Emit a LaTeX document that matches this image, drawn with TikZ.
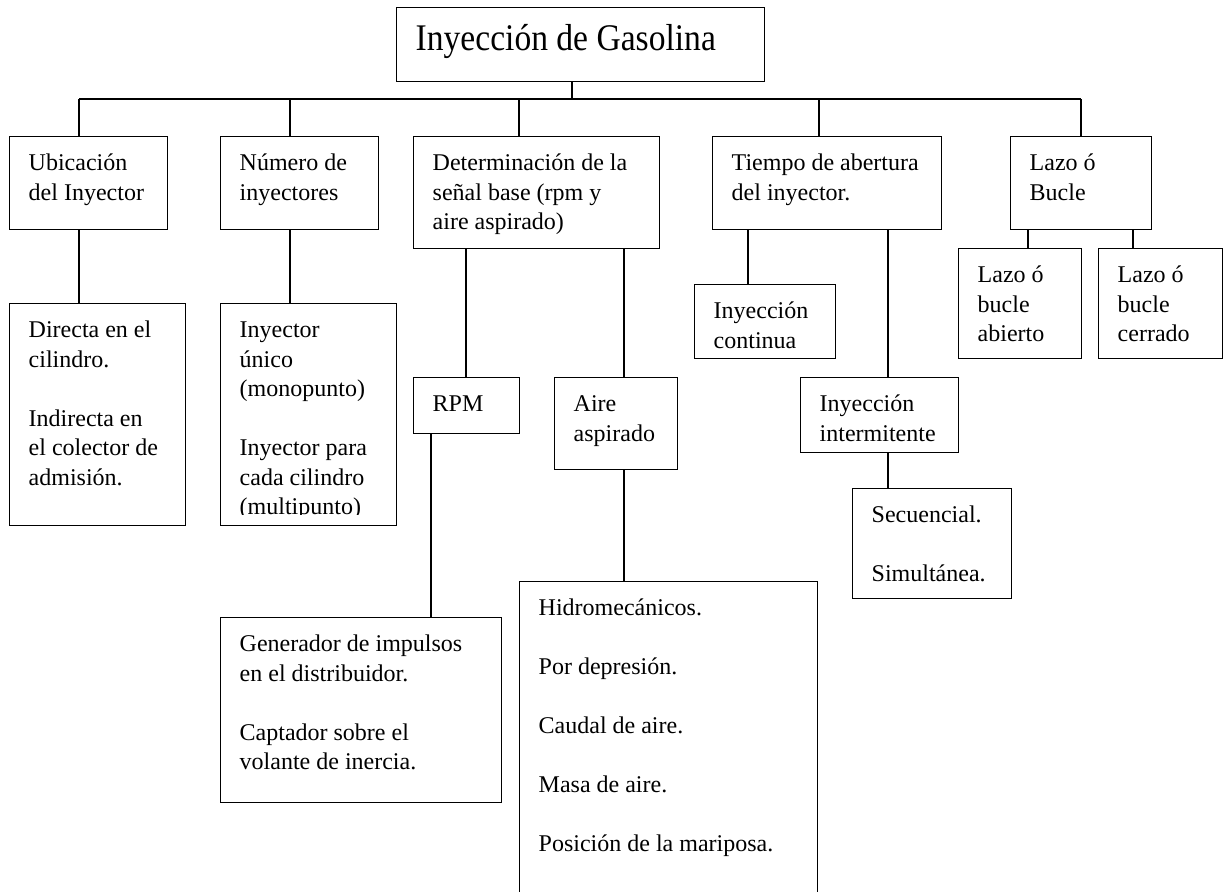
\documentclass[tikz,border=0pt]{standalone}
\usepackage{fontspec}
\setmainfont{Liberation Serif}
\newfontfamily\titfont[FakeStretch=0.893]{Liberation Serif}
\newlength{\upx}
\setlength{\upx}{0.5pt}
% texto arriba a la izquierda dentro de una caja de ancho x alto fijos
\newcommand{\cj}[4][34]{\parbox[c][#3\upx][t]{#2\upx}{\raggedright\leftskip=19\upx\rule{0pt}{#1\upx}#4}}
\begin{document}
\begin{tikzpicture}[x=0.5pt,y=-0.5pt,
  every node/.style={font=\fontsize{12pt}{14.75pt}\selectfont},
  caja/.style={draw,line width=0.7pt,anchor=north west,inner sep=0pt},
  linea/.style={line width=0.7pt}]
\useasboundingbox (0,0) rectangle (1228,892);
\clip (0,0) rectangle (1228,892);
% raiz
\node[caja,font=\titfont\fontsize{18.8pt}{22pt}\selectfont] (tit) at (396,7) {\cj[43]{368}{74}{Inyección de Gasolina}};
% primer nivel
\node[caja] (ubic) at (9,136) {\cj{158}{93}{Ubicación\\del Inyector}};
\node[caja] (num) at (220,136) {\cj{158}{93}{Número de\\inyectores}};
\node[caja] (det) at (413,136) {\cj{246}{112}{Determinación de la\\señal base (rpm y\\aire aspirado)}};
\node[caja] (tiem) at (712,136) {\cj{229}{93}{Tiempo de abertura\\del inyector.}};
\node[caja] (lazo) at (1010,136) {\cj{141}{93}{Lazo ó\\Bucle}};
% segundo nivel
\node[caja] (dir) at (9,303) {\cj{176}{222}{Directa en el\\cilindro.\\[\baselineskip]Indirecta en\\el colector de\\admisión.}};
\node[caja] (iny) at (220,303) {\cj{176}{222}{Inyector\\único\\(monopunto)\\[\baselineskip]Inyector para\\cada cilindro\\(multipunto)}};
\fill[white] (221,515) rectangle (395,524);
\node[caja] (rpm) at (413,377) {\cj{106}{56}{RPM}};
\node[caja] (aire) at (554,377) {\cj{123}{92}{Aire\\aspirado}};
\node[caja] (cont) at (694,284) {\cj{141}{74}{Inyección\\continua}};
\node[caja] (inter) at (800,377) {\cj{158}{75}{Inyección\\intermitente}};
\node[caja] (abi) at (958,248) {\cj{123}{110}{Lazo ó\\bucle\\abierto}};
\node[caja] (cer) at (1098,248) {\cj{124}{110}{Lazo ó\\bucle\\cerrado}};
% tercer nivel
\node[caja] (sec) at (852,488) {\cj{159}{110}{Secuencial.\\[\baselineskip]Simultánea.}};
\node[caja] (gen) at (220,617) {\cj{281}{185}{Generador de impulsos\\en el distribuidor.\\[\baselineskip]Captador sobre el\\volante de inercia.}};
\node[caja] (hid) at (519,581) {\cj{298}{330}{Hidromecánicos.\\[\baselineskip]Por depresión.\\[\baselineskip]Caudal de aire.\\[\baselineskip]Masa de aire.\\[\baselineskip]Posición de la mariposa.}};
% barra superior
\foreach \n/\x in {tit/572,ubic/79,num/290,det/519,tiem/819,lazo/1081}
  \coordinate (b-\n) at (\x,99);
\draw[linea] (b-ubic) -- (b-lazo);
\draw[linea] (tit.south -| b-tit) -- (b-tit);
\foreach \n in {ubic,num,det,tiem,lazo}
  \draw[linea] (b-\n) -- (\n.north -| b-\n);
% ramas
\foreach \p/\h/\x in {ubic/dir/79,num/iny/290,det/rpm/466,det/aire/624,rpm/gen/431,aire/hid/624,
    tiem/cont/748,tiem/inter/888,inter/sec/888,lazo/abi/1028,lazo/cer/1133} {
  \coordinate (x-\h) at (\x,0);
  \draw[linea] (\p.south -| x-\h) -- (\h.north -| x-\h);
}
\end{tikzpicture}
\end{document}
